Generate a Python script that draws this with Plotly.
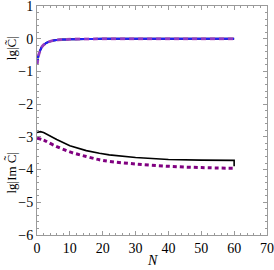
import plotly.graph_objects as go

# Top curves: lg|C~| (black, blue, purple dashed nearly identical)
N_top = [0, 0.5, 1, 1.5, 2, 3, 4, 5, 6, 8, 10, 15, 20, 30, 40, 50, 60]
top_black = [-0.8, -0.5, -0.35, -0.25, -0.19, -0.12, -0.08, -0.055, -0.04, -0.025, -0.015, -0.007, -0.004, -0.002, -0.001, -0.0005, 0.0]
top_blue = [-0.8, -0.5, -0.35, -0.25, -0.19, -0.12, -0.08, -0.055, -0.04, -0.025, -0.015, -0.007, -0.004, -0.002, -0.001, -0.0005, 0.0]
top_purple = [-0.8, -0.5, -0.35, -0.25, -0.19, -0.12, -0.08, -0.055, -0.04, -0.025, -0.015, -0.007, -0.004, -0.002, -0.001, -0.0005, 0.0]

# Bottom curves: lg|Im C~|
N_black = [0, 1, 2, 4, 6, 10, 15, 19, 22, 30, 40, 50, 60, 60]
bot_black = [-2.87, -2.84, -2.87, -2.98, -3.08, -3.27, -3.42, -3.50, -3.55, -3.63, -3.69, -3.71, -3.72, -3.90]
N_purple = [0, 2, 5, 10, 15, 19, 22, 30, 40, 50, 60]
bot_purple = [-3.04, -3.10, -3.25, -3.46, -3.60, -3.70, -3.75, -3.83, -3.90, -3.94, -3.96]

x_ticks = [0, 10, 20, 30, 40, 50, 60, 70]
y_ticks = [-6, -5, -4, -3, -2, -1, 0, 1]

fig = go.Figure()
fig.add_trace(go.Scatter(x=N_top, y=top_black, mode="lines", line=dict(color="black", width=2), line_shape="spline"))
fig.add_trace(go.Scatter(x=N_top, y=top_blue, mode="lines", line=dict(color="#2020ff", width=2), line_shape="spline"))
fig.add_trace(go.Scatter(x=N_top, y=top_purple, mode="lines", line=dict(color="rgba(180,70,180,0.75)", width=3, dash="5px,4px"), line_shape="spline"))
fig.add_trace(go.Scatter(x=N_black, y=bot_black, mode="lines", line=dict(color="black", width=1.6), line_shape="linear"))
fig.add_trace(go.Scatter(x=N_purple, y=bot_purple, mode="lines", line=dict(color="#800080", width=3, dash="4px,3px"), line_shape="spline"))

serif = "Liberation Serif"
axis_common = dict(
    showline=True, linecolor="#9a9a9a", linewidth=1, mirror="ticks",
    ticks="inside", ticklen=4, tickcolor="#9a9a9a", tickwidth=1,
    showgrid=False, zeroline=False, automargin=False,
    ticklabeloverflow="allow",
    tickfont=dict(family=serif, size=14, color="black"),
)
fig.update_xaxes(range=[0, 70], tickvals=x_ticks,
                 minor=dict(ticks="inside", dtick=2, ticklen=2, tickcolor="#9a9a9a"),
                 **axis_common)
fig.update_yaxes(range=[-6, 1], tickvals=y_ticks,
                 minor=dict(ticks="inside", dtick=0.2, ticklen=2, tickcolor="#9a9a9a"),
                 **axis_common)

fig.add_annotation(text="lg|C\u0303|", x=-0.11, y=-0.3, xref="paper", yref="y",
                   xanchor="center", yanchor="middle",
                   textangle=-90, showarrow=False, font=dict(family=serif, size=13, color="black"))
fig.add_annotation(text="lg|Im C\u0303|", x=-0.11, y=-4.1, xref="paper", yref="y",
                   xanchor="center", yanchor="middle",
                   textangle=-90, showarrow=False, font=dict(family=serif, size=13, color="black"))
fig.add_annotation(text="<i>N</i>", x=0.5, y=-0.112, xref="paper", yref="paper",
                   xanchor="center", yanchor="middle",
                   showarrow=False, font=dict(family=serif, size=14, color="black"))

fig.update_layout(width=274, height=270, margin=dict(l=37, r=7, t=6, b=35),
                  plot_bgcolor="white", paper_bgcolor="white", showlegend=False,
                  font=dict(family=serif))
fig.write_html("out.html", config={"displayModeBar": False},
               post_script="document.body.style.margin='0';document.body.style.padding='0';document.body.style.overflow='hidden';")
